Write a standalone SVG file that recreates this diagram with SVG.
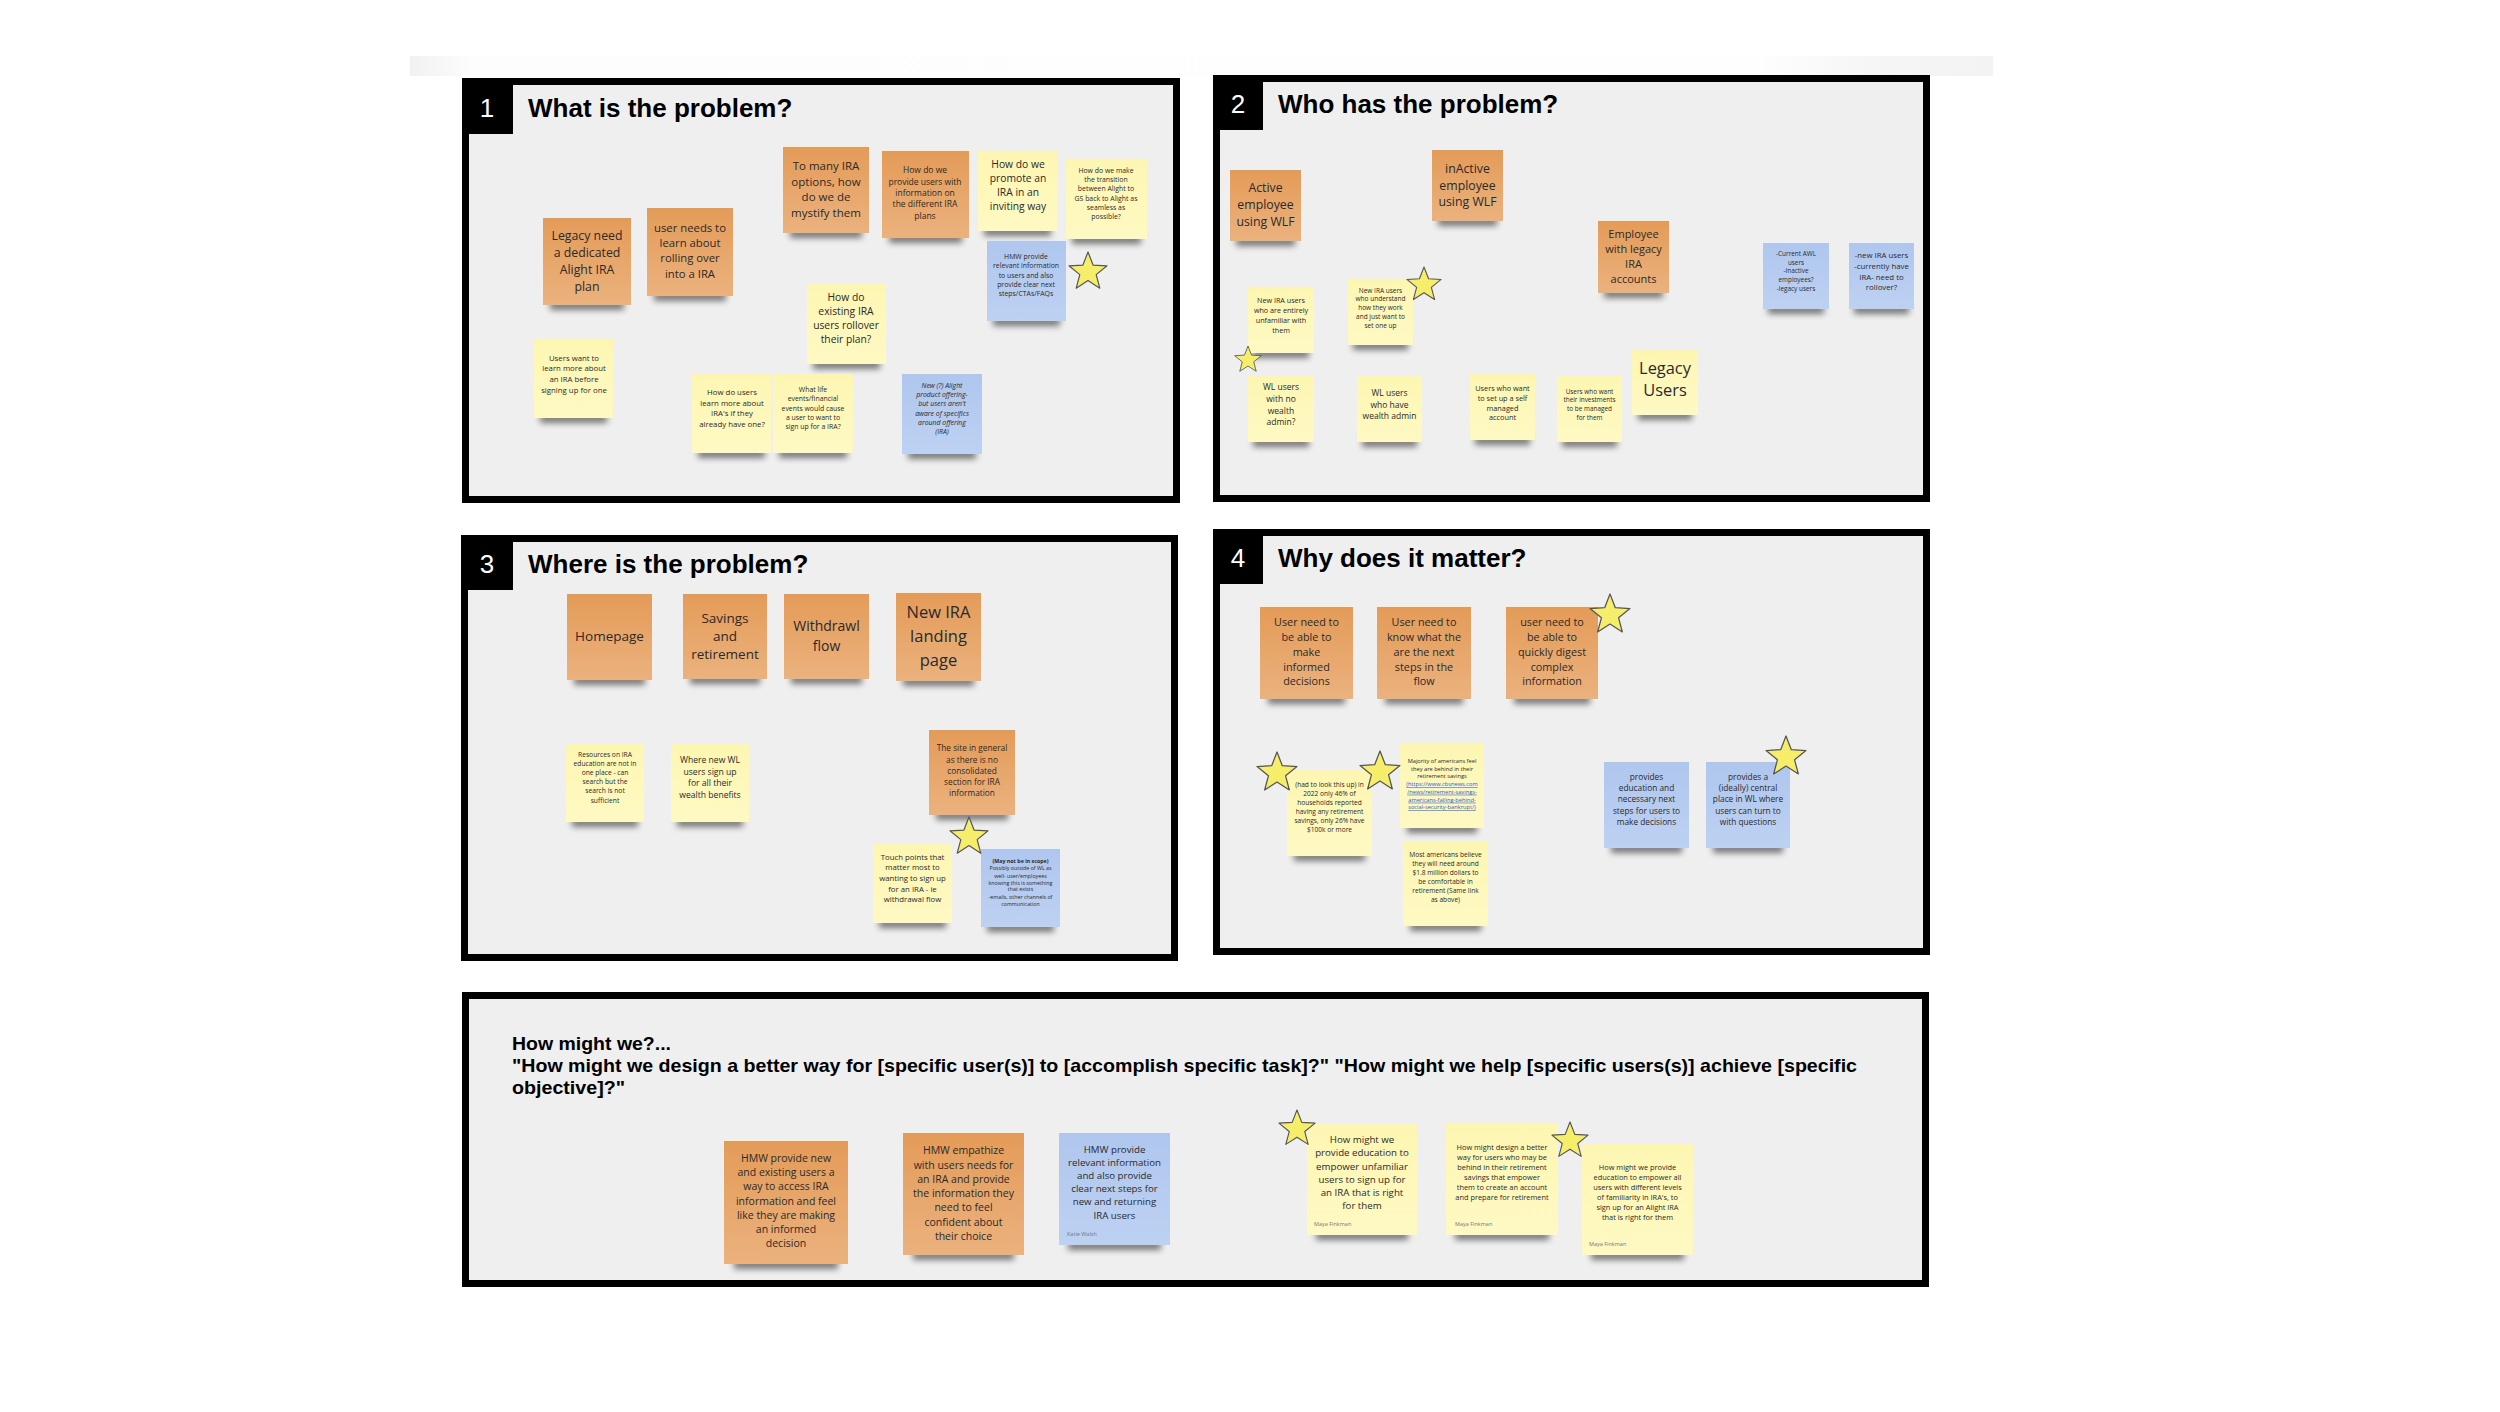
<svg xmlns="http://www.w3.org/2000/svg" xmlns:xlink="http://www.w3.org/1999/xlink" width="2500" height="1412" viewBox="0 0 2500 1412">
<defs>
<style>
.panel{fill:#efefef;stroke:#000;stroke-width:7}
.lbl{fill:#000}
.num{font-family:"Liberation Sans",Arial,sans-serif;font-size:26px;fill:#fff;text-anchor:middle}
.title{font-family:"Liberation Sans",Arial,sans-serif;font-weight:bold;font-size:26px;fill:#000}
.hmw{font-family:"Liberation Sans",Arial,sans-serif;font-weight:bold;font-size:19px;fill:#000}
.org{fill:url(#gOrg)}
.yel{fill:url(#gYel)}
.blu{fill:url(#gBlu)}
.sh{fill:#000;opacity:.5;filter:url(#blur)}
.t{font-family:"Open Sans","Noto Sans",sans-serif;fill:#2a2a2a;text-anchor:middle}
.au{font-family:"Open Sans","Noto Sans",sans-serif;font-size:5.5px;fill:#777}
.lnk{fill:#2a5bd7;text-decoration:underline}
.star{fill:#f6ee6a;stroke:#555;stroke-width:1.2;stroke-linejoin:round}
</style>
<linearGradient id="gOrg" x1="0" y1="0" x2="0" y2="1"><stop offset="0" stop-color="#e49b58"/><stop offset="1" stop-color="#ebb27e"/></linearGradient>
<linearGradient id="gYel" x1="0" y1="0" x2="0" y2="1"><stop offset="0" stop-color="#fdf6b2"/><stop offset="1" stop-color="#fef9c3"/></linearGradient>
<linearGradient id="gBlu" x1="0" y1="0" x2="0" y2="1"><stop offset="0" stop-color="#afc6ee"/><stop offset="1" stop-color="#bdd1f2"/></linearGradient>
<linearGradient id="gStrip" x1="0" y1="0" x2="1" y2="0"><stop offset="0" stop-color="#f1f1f1"/><stop offset="0.04" stop-color="#fdfdfd"/><stop offset="0.85" stop-color="#fefefe"/><stop offset="0.93" stop-color="#f5f5f5"/><stop offset="1" stop-color="#f3f3f3"/></linearGradient>
<filter id="blur" x="-20%" y="-100%" width="140%" height="300%"><feGaussianBlur stdDeviation="3"/></filter>
<path id="star" d="M0,-20 L5.06,-6.96 L19.02,-6.18 L8.18,2.66 L11.76,16.18 L0,8.6 L-11.76,16.18 L-8.18,2.66 L-19.02,-6.18 L-5.06,-6.96 Z"/>
</defs>
<rect x="0" y="0" width="2500" height="1412" fill="#fff"/>
<rect x="410" y="56" width="1583" height="20" fill="url(#gStrip)"/>

<!-- Panels -->
<g id="panel-1">
<rect class="panel" x="465.5" y="81.5" width="711" height="418"/>
<rect class="lbl" x="462" y="78" width="51" height="56"/>
<text class="num" x="487" y="117">1</text>
<text class="title" x="528" y="117">What is the problem?</text>
</g>
<g id="panel-2">
<rect class="panel" x="1216.5" y="78.5" width="710" height="420"/>
<rect class="lbl" x="1213" y="75" width="50" height="55"/>
<text class="num" x="1238" y="113">2</text>
<text class="title" x="1278" y="113">Who has the problem?</text>
</g>
<g id="panel-3">
<rect class="panel" x="464.5" y="538.5" width="710" height="419"/>
<rect class="lbl" x="461" y="535" width="52" height="55"/>
<text class="num" x="487" y="573">3</text>
<text class="title" x="528" y="573">Where is the problem?</text>
</g>
<g id="panel-4">
<rect class="panel" x="1216.5" y="532.5" width="710" height="419"/>
<rect class="lbl" x="1213" y="529" width="50" height="55"/>
<text class="num" x="1238" y="567">4</text>
<text class="title" x="1278" y="567">Why does it matter?</text>
</g>
<g id="panel-hmw">
<rect class="panel" x="465.5" y="995.5" width="1460" height="288"/>
<text class="hmw" x="512" y="1050" textLength="159" lengthAdjust="spacingAndGlyphs">How might we?...</text>
<text class="hmw" x="512" y="1072" textLength="1345" lengthAdjust="spacingAndGlyphs">"How might we design a better way for [specific user(s)] to [accomplish specific task]?" "How might we help [specific users(s)] achieve [specific</text>
<text class="hmw" x="512" y="1094" textLength="113" lengthAdjust="spacingAndGlyphs">objective]?"</text>
</g>

<g id="connectors"></g>

<!-- Panel 1 notes -->
<g id="n1-legacy"><rect class="sh" x="550" y="301" width="74" height="9"/><rect class="org" x="543" y="218" width="88" height="87"/>
<text class="t" font-size="12.3"><tspan x="587" y="240.4">Legacy need</tspan><tspan x="587" y="257">a dedicated</tspan><tspan x="587" y="274">Alight IRA</tspan><tspan x="587" y="290.5">plan</tspan></text></g>
<g id="n1-rolling"><rect class="sh" x="654" y="292" width="72" height="9"/><rect class="org" x="647" y="208" width="86" height="88"/>
<text class="t" font-size="11.3"><tspan x="690" y="232">user needs to</tspan><tspan x="690" y="247.3">learn about</tspan><tspan x="690" y="262.3">rolling over</tspan><tspan x="690" y="277.7">into a IRA</tspan></text></g>
<g id="n1-tomany"><rect class="sh" x="790" y="229" width="72" height="9"/><rect class="org" x="783" y="147" width="86" height="86"/>
<text class="t" font-size="11.5"><tspan x="826" y="170">To many IRA</tspan><tspan x="826" y="186">options, how</tspan><tspan x="826" y="201">do we de</tspan><tspan x="826" y="216.5">mystify them</tspan></text></g>
<g id="n1-provide"><rect class="sh" x="889" y="234" width="73" height="9"/><rect class="org" x="882" y="151" width="87" height="87"/>
<text class="t" font-size="8.5"><tspan x="925" y="173">How do we</tspan><tspan x="925" y="184.7">provide users with</tspan><tspan x="925" y="196">information on</tspan><tspan x="925" y="207.3">the different IRA</tspan><tspan x="925" y="219">plans</tspan></text></g>
<g id="n1-promote"><rect class="sh" x="984" y="227" width="67" height="9"/><rect class="yel" x="978" y="151" width="79" height="80"/>
<text class="t" font-size="10.3"><tspan x="1018" y="168">How do we</tspan><tspan x="1018" y="182">promote an</tspan><tspan x="1018" y="196">IRA in an</tspan><tspan x="1018" y="210">inviting way</tspan></text></g>
<g id="n1-transition"><rect class="sh" x="1072" y="235" width="69" height="9"/><rect class="yel" x="1066" y="159" width="81" height="80"/>
<text class="t" font-size="6.9"><tspan x="1106" y="172.5">How do we make</tspan><tspan x="1106" y="181.8">the transition</tspan><tspan x="1106" y="191.2">between Alight to</tspan><tspan x="1106" y="200.5">GS back to Alight as</tspan><tspan x="1106" y="209.8">seamless as</tspan><tspan x="1106" y="219.2">possible?</tspan></text></g>
<g id="n1-hmw-relevant"><rect class="sh" x="993" y="317" width="67" height="9"/><rect class="blu" x="987" y="241" width="79" height="80"/>
<text class="t" font-size="6.9"><tspan x="1026" y="258.8">HMW provide</tspan><tspan x="1026" y="268.2">relevant information</tspan><tspan x="1026" y="277.5">to users and also</tspan><tspan x="1026" y="286.8">provide clear next</tspan><tspan x="1026" y="296.2">steps/CTAs/FAQs</tspan></text></g>
<g id="n1-existing"><rect class="sh" x="813" y="360" width="67" height="9"/><rect class="yel" x="807" y="284" width="79" height="80"/>
<text class="t" font-size="10.3"><tspan x="846" y="301.4">How do</tspan><tspan x="846" y="315.4">existing IRA</tspan><tspan x="846" y="329.4">users rollover</tspan><tspan x="846" y="343.4">their plan?</tspan></text></g>
<g id="n1-learnmore"><rect class="sh" x="540" y="414" width="67" height="9"/><rect class="yel" x="534" y="339" width="79" height="79"/>
<text class="t" font-size="7.8"><tspan x="574" y="360.5">Users want to</tspan><tspan x="574" y="371.1">learn more about</tspan><tspan x="574" y="381.8">an IRA before</tspan><tspan x="574" y="392.5">signing up for one</tspan></text></g>
<g id="n1-already"><rect class="sh" x="698" y="449" width="67" height="9"/><rect class="yel" x="692" y="374" width="79" height="79"/>
<text class="t" font-size="7.8"><tspan x="732" y="394.8">How do users</tspan><tspan x="732" y="405.5">learn more about</tspan><tspan x="732" y="416.1">IRA's if they</tspan><tspan x="732" y="426.8">already have one?</tspan></text></g>
<g id="n1-lifeevents"><rect class="sh" x="779" y="449" width="68" height="9"/><rect class="yel" x="773" y="374" width="80" height="79"/>
<text class="t" font-size="6.9"><tspan x="813" y="391.5">What life</tspan><tspan x="813" y="400.8">events/financial</tspan><tspan x="813" y="410.5">events would cause</tspan><tspan x="813" y="419.8">a user to want to</tspan><tspan x="813" y="429.2">sign up for a IRA?</tspan></text></g>
<g id="n1-newoffering"><rect class="sh" x="908" y="450" width="68" height="9"/><rect class="blu" x="902" y="374" width="80" height="80"/>
<text class="t" font-size="6.9" font-style="italic"><tspan x="942" y="387.5">New (?) Alight</tspan><tspan x="942" y="396.8">product offering-</tspan><tspan x="942" y="406.2">but users aren't</tspan><tspan x="942" y="415.5">aware of specifics</tspan><tspan x="942" y="424.8">around offering</tspan><tspan x="942" y="434.2">(IRA)</tspan></text></g>
<g id="s1"><use xlink:href="#star" class="star" transform="translate(1088,272)"/></g>

<!-- Panel 2 notes -->
<g id="n2-active"><rect class="sh" x="1236" y="237" width="59" height="9"/><rect class="org" x="1230" y="170" width="71" height="71"/>
<text class="t" font-size="12.3"><tspan x="1265.5" y="192.4">Active</tspan><tspan x="1265.5" y="209.1">employee</tspan><tspan x="1265.5" y="225.7">using WLF</tspan></text></g>
<g id="n2-inactive"><rect class="sh" x="1438" y="217" width="59" height="9"/><rect class="org" x="1432" y="150" width="71" height="71"/>
<text class="t" font-size="12.3"><tspan x="1467.5" y="173">inActive</tspan><tspan x="1467.5" y="189.7">employee</tspan><tspan x="1467.5" y="206.4">using WLF</tspan></text></g>
<g id="n2-legacyira"><rect class="sh" x="1604" y="289" width="59" height="9"/><rect class="org" x="1598" y="221" width="71" height="72"/>
<text class="t" font-size="11"><tspan x="1633.5" y="237.7">Employee</tspan><tspan x="1633.5" y="252.7">with legacy</tspan><tspan x="1633.5" y="267.7">IRA</tspan><tspan x="1633.5" y="282.7">accounts</tspan></text></g>
<g id="n2-awl"><rect class="sh" x="1768" y="305" width="56" height="9"/><rect class="blu" x="1763" y="243" width="66" height="66"/>
<text class="t" font-size="6.4"><tspan x="1796" y="256">-Current AWL</tspan><tspan x="1796" y="264.6">users</tspan><tspan x="1796" y="273.3">-Inactive</tspan><tspan x="1796" y="282">employees?</tspan><tspan x="1796" y="290.6">-legacy users</tspan></text></g>
<g id="n2-newira"><rect class="sh" x="1854" y="305" width="55" height="9"/><rect class="blu" x="1849" y="243" width="65" height="66"/>
<text class="t" font-size="7.8"><tspan x="1881.5" y="258.1">-new IRA users</tspan><tspan x="1881.5" y="268.8">-currently have</tspan><tspan x="1881.5" y="279.5">IRA- need to</tspan><tspan x="1881.5" y="290.1">rollover?</tspan></text></g>
<g id="n2-unfamiliar"><rect class="sh" x="1253" y="349" width="56" height="9"/><rect class="yel" x="1248" y="287" width="66" height="66"/>
<text class="t" font-size="7.2"><tspan x="1281" y="303.3">New IRA users</tspan><tspan x="1281" y="313.3">who are entirely</tspan><tspan x="1281" y="323">unfamiliar with</tspan><tspan x="1281" y="332.6">them</tspan></text></g>
<g id="n2-understand"><rect class="sh" x="1353" y="341" width="55" height="9"/><rect class="yel" x="1348" y="279" width="65" height="66"/>
<text class="t" font-size="6.5"><tspan x="1380.5" y="292.6">New IRA users</tspan><tspan x="1380.5" y="301.3">who understand</tspan><tspan x="1380.5" y="310.3">how they work</tspan><tspan x="1380.5" y="319.3">and just want to</tspan><tspan x="1380.5" y="328">set one up</tspan></text></g>
<g id="n2-nowealth"><rect class="sh" x="1253" y="438" width="56" height="9"/><rect class="yel" x="1248" y="376" width="66" height="66"/>
<text class="t" font-size="8.5"><tspan x="1281" y="390.4">WL users</tspan><tspan x="1281" y="402">with no</tspan><tspan x="1281" y="413.8">wealth</tspan><tspan x="1281" y="425">admin?</tspan></text></g>
<g id="n2-haswealth"><rect class="sh" x="1362" y="438" width="55" height="9"/><rect class="yel" x="1357" y="376" width="65" height="66"/>
<text class="t" font-size="8.5"><tspan x="1389.5" y="396.4">WL users</tspan><tspan x="1389.5" y="407.8">who have</tspan><tspan x="1389.5" y="419.4">wealth admin</tspan></text></g>
<g id="n2-selfmanaged"><rect class="sh" x="1475" y="436" width="55" height="9"/><rect class="yel" x="1470" y="374" width="65" height="66"/>
<text class="t" font-size="7.3"><tspan x="1502.5" y="390.6">Users who want</tspan><tspan x="1502.5" y="400.6">to set up a self</tspan><tspan x="1502.5" y="410.6">managed</tspan><tspan x="1502.5" y="420.3">account</tspan></text></g>
<g id="n2-managed"><rect class="sh" x="1562" y="438" width="55" height="9"/><rect class="yel" x="1557" y="376" width="65" height="66"/>
<text class="t" font-size="6.4"><tspan x="1589.5" y="393.6">Users who want</tspan><tspan x="1589.5" y="402.3">their investments</tspan><tspan x="1589.5" y="411">to be managed</tspan><tspan x="1589.5" y="419.6">for them</tspan></text></g>
<g id="n2-legacyusers"><rect class="sh" x="1638" y="411" width="54" height="9"/><rect class="yel" x="1632" y="350" width="66" height="65"/>
<text class="t" font-size="16.4"><tspan x="1665" y="373.9">Legacy</tspan><tspan x="1665" y="396.2">Users</tspan></text></g>
<g id="s2a"><use xlink:href="#star" class="star" transform="translate(1424,285) scale(0.9)"/></g>
<g id="s2b"><use xlink:href="#star" class="star" transform="translate(1248,360) scale(0.7)"/></g>

<!-- Panel 3 notes -->
<g id="n3-homepage"><rect class="sh" x="574" y="676" width="71" height="9"/><rect class="org" x="567" y="594" width="85" height="86"/>
<text class="t" font-size="13.5"><tspan x="609.5" y="640.9">Homepage</tspan></text></g>
<g id="n3-savings"><rect class="sh" x="690" y="675" width="70" height="9"/><rect class="org" x="683" y="594" width="84" height="85"/>
<text class="t" font-size="13.5"><tspan x="725" y="622.6">Savings</tspan><tspan x="725" y="640.9">and</tspan><tspan x="725" y="659.2">retirement</tspan></text></g>
<g id="n3-withdrawl"><rect class="sh" x="791" y="675" width="71" height="9"/><rect class="org" x="784" y="594" width="85" height="85"/>
<text class="t" font-size="14"><tspan x="826.5" y="631">Withdrawl</tspan><tspan x="826.5" y="651">flow</tspan></text></g>
<g id="n3-landing"><rect class="sh" x="903" y="677" width="71" height="9"/><rect class="org" x="896" y="593" width="85" height="88"/>
<text class="t" font-size="16.5"><tspan x="938.5" y="618">New IRA</tspan><tspan x="938.5" y="642">landing</tspan><tspan x="938.5" y="666">page</tspan></text></g>
<g id="n3-resources"><rect class="sh" x="572" y="818" width="66" height="9"/><rect class="yel" x="566" y="744" width="78" height="78"/>
<text class="t" font-size="6.7"><tspan x="605" y="757.1">Resources on IRA</tspan><tspan x="605" y="766.1">education are not in</tspan><tspan x="605" y="775.4">one place - can</tspan><tspan x="605" y="784.4">search but the</tspan><tspan x="605" y="793.4">search is not</tspan><tspan x="605" y="802.7">sufficient</tspan></text></g>
<g id="n3-wheresignup"><rect class="sh" x="677" y="818" width="66" height="9"/><rect class="yel" x="671" y="744" width="78" height="78"/>
<text class="t" font-size="8.6"><tspan x="710" y="763.1">Where new WL</tspan><tspan x="710" y="774.8">users sign up</tspan><tspan x="710" y="786.4">for all their</tspan><tspan x="710" y="798.1">wealth benefits</tspan></text></g>
<g id="n3-site"><rect class="sh" x="936" y="811" width="72" height="9"/><rect class="org" x="929" y="730" width="86" height="85"/>
<text class="t" font-size="8.3"><tspan x="972" y="751.3">The site in general</tspan><tspan x="972" y="763">as there is no</tspan><tspan x="972" y="774">consolidated</tspan><tspan x="972" y="785">section for IRA</tspan><tspan x="972" y="796.3">information</tspan></text></g>
<g id="n3-touchpoints"><rect class="sh" x="879" y="919" width="67" height="9"/><rect class="yel" x="873" y="844" width="79" height="79"/>
<text class="t" font-size="7.8"><tspan x="912.5" y="859.5">Touch points that</tspan><tspan x="912.5" y="870.1">matter most to</tspan><tspan x="912.5" y="880.8">wanting to sign up</tspan><tspan x="912.5" y="891.5">for an IRA - ie</tspan><tspan x="912.5" y="902.1">withdrawal flow</tspan></text></g>
<g id="n3-notinscope"><rect class="sh" x="987" y="923" width="67" height="9"/><rect class="blu" x="981" y="849" width="79" height="78"/>
<text class="t" font-size="5.3"><tspan x="1020.5" y="862.9" font-weight="bold">(May not be in scope)</tspan><tspan x="1020.5" y="870.2">Possibly outside of WL as</tspan><tspan x="1020.5" y="877.6">well- user/employees</tspan><tspan x="1020.5" y="884.6">knowing this is something</tspan><tspan x="1020.5" y="891.2">that exists</tspan><tspan x="1020.5" y="898.6">-emails, other channels of</tspan><tspan x="1020.5" y="905.9">communication</tspan></text></g>
<g id="s3"><use xlink:href="#star" class="star" transform="translate(969,837)"/></g>

<!-- Panel 4 notes -->
<g id="n4-informed"><rect class="sh" x="1268" y="695" width="77" height="9"/><rect class="org" x="1260" y="607" width="93" height="92"/>
<text class="t" font-size="10.8"><tspan x="1306.5" y="626.2">User need to</tspan><tspan x="1306.5" y="640.9">be able to</tspan><tspan x="1306.5" y="655.6">make</tspan><tspan x="1306.5" y="670.6">informed</tspan><tspan x="1306.5" y="685.2">decisions</tspan></text></g>
<g id="n4-nextsteps"><rect class="sh" x="1385" y="695" width="78" height="9"/><rect class="org" x="1377" y="607" width="94" height="92"/>
<text class="t" font-size="10.8"><tspan x="1424" y="626.2">User need to</tspan><tspan x="1424" y="640.9">know what the</tspan><tspan x="1424" y="655.6">are the next</tspan><tspan x="1424" y="670.6">steps in the</tspan><tspan x="1424" y="685.2">flow</tspan></text></g>
<g id="n4-digest"><rect class="sh" x="1514" y="695" width="76" height="9"/><rect class="org" x="1506" y="607" width="92" height="92"/>
<text class="t" font-size="10.8"><tspan x="1552" y="626.2">user need to</tspan><tspan x="1552" y="640.9">be able to</tspan><tspan x="1552" y="655.6">quickly digest</tspan><tspan x="1552" y="670.6">complex</tspan><tspan x="1552" y="685.2">information</tspan></text></g>
<g id="n4-stat46"><rect class="sh" x="1294" y="852" width="71" height="9"/><rect class="yel" x="1287" y="770" width="85" height="86"/>
<text class="t" font-size="6.6"><tspan x="1329.5" y="787.4">(had to look this up) in</tspan><tspan x="1329.5" y="796.4">2022 only 46% of</tspan><tspan x="1329.5" y="805.4">households reported</tspan><tspan x="1329.5" y="814.4">having any retirement</tspan><tspan x="1329.5" y="823.4">savings, only 26% have</tspan><tspan x="1329.5" y="832.4">$100k or more</tspan></text></g>
<g id="n4-majority"><rect class="sh" x="1407" y="824" width="70" height="9"/><rect class="yel" x="1400" y="743" width="84" height="85"/>
<text class="t" font-size="5.7"><tspan x="1442" y="763">Majority of americans feel</tspan><tspan x="1442" y="770.7">they are behind in their</tspan><tspan x="1442" y="778.3">retirement savings</tspan><tspan x="1442" y="786" class="lnk">(https://www.cbsnews.com</tspan><tspan x="1442" y="793.7" class="lnk">/news/retirement-savings-</tspan><tspan x="1442" y="801.7" class="lnk">americans-falling-behind-</tspan><tspan x="1442" y="809.3" class="lnk">social-security-bankrupt/)</tspan></text></g>
<g id="n4-million"><rect class="sh" x="1410" y="922" width="71" height="9"/><rect class="yel" x="1403" y="841" width="85" height="85"/>
<text class="t" font-size="6.6"><tspan x="1445.5" y="857.4">Most americans believe</tspan><tspan x="1445.5" y="866.4">they will need around</tspan><tspan x="1445.5" y="875.4">$1.8 million dollars to</tspan><tspan x="1445.5" y="884.4">be comfortable in</tspan><tspan x="1445.5" y="893.4">retirement (Same link</tspan><tspan x="1445.5" y="902.4">as above)</tspan></text></g>
<g id="n4-education"><rect class="sh" x="1611" y="844" width="71" height="9"/><rect class="blu" x="1604" y="762" width="85" height="86"/>
<text class="t" font-size="8.3"><tspan x="1646.5" y="779.7">provides</tspan><tspan x="1646.5" y="791">education and</tspan><tspan x="1646.5" y="802.3">necessary next</tspan><tspan x="1646.5" y="813.7">steps for users to</tspan><tspan x="1646.5" y="825">make decisions</tspan></text></g>
<g id="n4-central"><rect class="sh" x="1713" y="844" width="70" height="9"/><rect class="blu" x="1706" y="762" width="84" height="86"/>
<text class="t" font-size="8.3"><tspan x="1748" y="779.7">provides a</tspan><tspan x="1748" y="791">(ideally) central</tspan><tspan x="1748" y="802.3">place in WL where</tspan><tspan x="1748" y="813.7">users can turn to</tspan><tspan x="1748" y="825">with questions</tspan></text></g>
<g id="s4a"><use xlink:href="#star" class="star" transform="translate(1610,615) scale(1.05)"/></g>
<g id="s4b"><use xlink:href="#star" class="star" transform="translate(1277,773) scale(1.05)"/></g>
<g id="s4c"><use xlink:href="#star" class="star" transform="translate(1380,772) scale(1.05)"/></g>
<g id="s4d"><use xlink:href="#star" class="star" transform="translate(1786,757) scale(1.05)"/></g>

<!-- HMW notes -->
<g id="n5-access"><rect class="sh" x="734" y="1260" width="104" height="9"/><rect class="org" x="724" y="1141" width="124" height="123"/>
<text class="t" font-size="10.5"><tspan x="786" y="1161.5">HMW provide new</tspan><tspan x="786" y="1175.8">and existing users a</tspan><tspan x="786" y="1190.1">way to access IRA</tspan><tspan x="786" y="1204.5">information and feel</tspan><tspan x="786" y="1218.8">like they are making</tspan><tspan x="786" y="1233.1">an informed</tspan><tspan x="786" y="1247.1">decision</tspan></text></g>
<g id="n5-empathize"><rect class="sh" x="913" y="1251" width="101" height="9"/><rect class="org" x="903" y="1133" width="121" height="122"/>
<text class="t" font-size="10.5"><tspan x="963.5" y="1153.8">HMW empathize</tspan><tspan x="963.5" y="1168.8">with users needs for</tspan><tspan x="963.5" y="1182.8">an IRA and provide</tspan><tspan x="963.5" y="1197.1">the information they</tspan><tspan x="963.5" y="1211.1">need to feel</tspan><tspan x="963.5" y="1225.5">confident about</tspan><tspan x="963.5" y="1239.5">their choice</tspan></text></g>
<g id="n5-relevant"><rect class="sh" x="1068" y="1241" width="93" height="9"/><rect class="blu" x="1059" y="1133" width="111" height="112"/>
<text class="t" font-size="9.7"><tspan x="1114.5" y="1152.5">HMW provide</tspan><tspan x="1114.5" y="1165.8">relevant information</tspan><tspan x="1114.5" y="1179.2">and also provide</tspan><tspan x="1114.5" y="1192.2">clear next steps for</tspan><tspan x="1114.5" y="1205.2">new and returning</tspan><tspan x="1114.5" y="1218.5">IRA users</tspan></text>
<text class="au" x="1067" y="1236">Katie Walsh</text></g>
<g id="n5-unfamiliar"><rect class="sh" x="1316" y="1231" width="92" height="9"/><rect class="yel" x="1307" y="1124" width="110" height="111"/>
<text class="t" font-size="9.7"><tspan x="1362" y="1142.8">How might we</tspan><tspan x="1362" y="1156.2">provide education to</tspan><tspan x="1362" y="1169.5">empower unfamiliar</tspan><tspan x="1362" y="1182.8">users to sign up for</tspan><tspan x="1362" y="1195.8">an IRA that is right</tspan><tspan x="1362" y="1208.8">for them</tspan></text>
<text class="au" x="1314" y="1226">Maya Finkman</text></g>
<g id="n5-behind"><rect class="sh" x="1455" y="1231" width="94" height="9"/><rect class="yel" x="1446" y="1123" width="112" height="112"/>
<text class="t" font-size="7.4"><tspan x="1502" y="1149.7">How might design a better</tspan><tspan x="1502" y="1159.7">way for users who may be</tspan><tspan x="1502" y="1169.7">behind in their retirement</tspan><tspan x="1502" y="1179.7">savings that empower</tspan><tspan x="1502" y="1189.7">them to create an account</tspan><tspan x="1502" y="1199.7">and prepare for retirement</tspan></text>
<text class="au" x="1455" y="1226">Maya Finkman</text></g>
<g id="n5-allusers"><rect class="sh" x="1591" y="1251" width="93" height="9"/><rect class="yel" x="1582" y="1144" width="111" height="111"/>
<text class="t" font-size="7.4"><tspan x="1637.5" y="1169.7">How might we provide</tspan><tspan x="1637.5" y="1179.7">education to empower all</tspan><tspan x="1637.5" y="1189.7">users with different levels</tspan><tspan x="1637.5" y="1200">of familiarity in IRA's, to</tspan><tspan x="1637.5" y="1210.4">sign up for an Alight IRA</tspan><tspan x="1637.5" y="1220.4">that is right for them</tspan></text>
<text class="au" x="1589" y="1246">Maya Finkman</text></g>
<g id="s5a"><use xlink:href="#star" class="star" transform="translate(1297,1129) scale(0.95)"/></g>
<g id="s5b"><use xlink:href="#star" class="star" transform="translate(1570,1141) scale(0.95)"/></g>
</svg>
